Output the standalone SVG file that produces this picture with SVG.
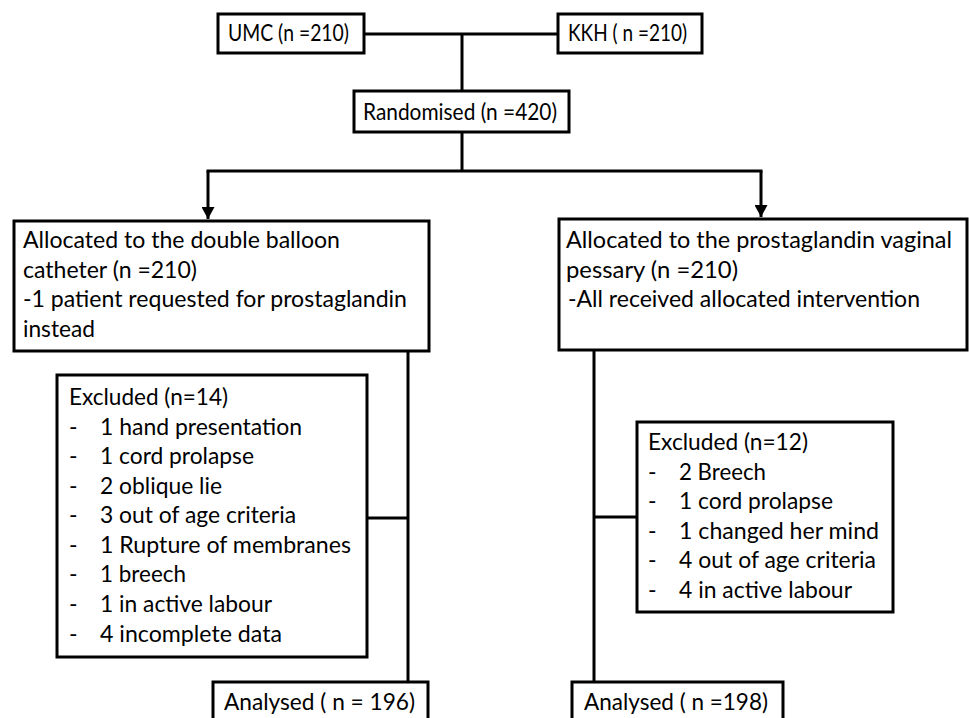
<svg xmlns="http://www.w3.org/2000/svg" width="969" height="718" viewBox="0 0 969 718">
<defs>
<style>
.box{fill:#fff;stroke:#000;stroke-width:3}
.ln{fill:none;stroke:#000;stroke-width:3}
text{font-family:Lato,"Open Sans","Liberation Sans",sans-serif;font-size:23px;fill:#000}
</style>
<marker id="arr" markerUnits="userSpaceOnUse" markerWidth="13" markerHeight="13" refX="12" refY="6.5" orient="auto">
<path d="M0,0 L12,6.5 L0,13 z" fill="#000"/>
</marker>
</defs>
<rect width="969" height="718" fill="#fff"/>
<g id="connectors">
<line class="ln" x1="364" y1="34" x2="558" y2="34"/>
<line class="ln" x1="462" y1="34" x2="462" y2="91"/>
<line class="ln" x1="462" y1="132" x2="462" y2="171"/>
<line class="ln" x1="206.5" y1="171" x2="762.5" y2="171"/>
<line class="ln" x1="208" y1="171" x2="208" y2="219" marker-end="url(#arr)"/>
<line class="ln" x1="761" y1="171" x2="761" y2="217" marker-end="url(#arr)"/>
<line class="ln" x1="408" y1="351" x2="408" y2="682"/>
<line class="ln" x1="367" y1="518" x2="408" y2="518"/>
<line class="ln" x1="594" y1="350" x2="594" y2="682"/>
<line class="ln" x1="594" y1="517" x2="637" y2="517"/>
</g>
<g id="umc"><rect class="box" x="218" y="14" width="146" height="39"/><text x="228" y="41" textLength="121" lengthAdjust="spacingAndGlyphs">UMC (n =210)</text></g>
<g id="kkh"><rect class="box" x="558" y="14" width="144" height="39"/><text x="568" y="41" textLength="119" lengthAdjust="spacingAndGlyphs">KKH ( n =210)</text></g>
<g id="randomised"><rect class="box" x="354" y="91" width="215" height="41"/><text x="363" y="120" textLength="194" lengthAdjust="spacingAndGlyphs">Randomised (n =420)</text></g>
<g id="alloc-left"><rect class="box" x="14" y="221" width="415" height="130"/>
<text x="23" y="248" textLength="317" lengthAdjust="spacingAndGlyphs">Allocated to the double balloon</text>
<text x="23" y="278" textLength="174" lengthAdjust="spacingAndGlyphs">catheter (n =210)</text>
<text x="23" y="307" textLength="384" lengthAdjust="spacingAndGlyphs">-1 patient requested for prostaglandin</text>
<text x="23" y="337" textLength="72" lengthAdjust="spacingAndGlyphs">instead</text></g>
<g id="alloc-right"><rect class="box" x="559" y="219" width="408" height="131"/>
<text x="566" y="248" textLength="386" lengthAdjust="spacingAndGlyphs">Allocated to the prostaglandin vaginal</text>
<text x="566" y="278" textLength="172" lengthAdjust="spacingAndGlyphs">pessary (n =210)</text>
<text x="568" y="307" textLength="352" lengthAdjust="spacingAndGlyphs">-All received allocated intervention</text></g>
<g id="excl-left"><rect class="box" x="57" y="375" width="310" height="282"/>
<text x="69" y="405" textLength="159" lengthAdjust="spacingAndGlyphs">Excluded (n=14)</text>
<text x="69" y="435">-</text><text x="100" y="435" textLength="202" lengthAdjust="spacingAndGlyphs">1 hand presentation</text>
<text x="69" y="464">-</text><text x="100" y="464" textLength="154" lengthAdjust="spacingAndGlyphs">1 cord prolapse</text>
<text x="69" y="494">-</text><text x="100" y="494" textLength="122" lengthAdjust="spacingAndGlyphs">2 oblique lie</text>
<text x="69" y="523">-</text><text x="100" y="523" textLength="196" lengthAdjust="spacingAndGlyphs">3 out of age criteria</text>
<text x="69" y="553">-</text><text x="100" y="553" textLength="251" lengthAdjust="spacingAndGlyphs">1 Rupture of membranes</text>
<text x="69" y="582">-</text><text x="100" y="582" textLength="86" lengthAdjust="spacingAndGlyphs">1 breech</text>
<text x="69" y="612">-</text><text x="100" y="612" textLength="172" lengthAdjust="spacingAndGlyphs">1 in active labour</text>
<text x="69" y="642">-</text><text x="100" y="642" textLength="182" lengthAdjust="spacingAndGlyphs">4 incomplete data</text></g>
<g id="excl-right"><rect class="box" x="637" y="422" width="256" height="190"/>
<text x="648" y="450" textLength="160" lengthAdjust="spacingAndGlyphs">Excluded (n=12)</text>
<text x="648" y="480">-</text><text x="679" y="480" textLength="87" lengthAdjust="spacingAndGlyphs">2 Breech</text>
<text x="648" y="509">-</text><text x="679" y="509" textLength="154" lengthAdjust="spacingAndGlyphs">1 cord prolapse</text>
<text x="648" y="539">-</text><text x="679" y="539" textLength="200" lengthAdjust="spacingAndGlyphs">1 changed her mind</text>
<text x="648" y="568">-</text><text x="679" y="568" textLength="197" lengthAdjust="spacingAndGlyphs">4 out of age criteria</text>
<text x="648" y="598">-</text><text x="679" y="598" textLength="173" lengthAdjust="spacingAndGlyphs">4 in active labour</text></g>
<g id="analysed-left"><rect class="box" x="213" y="682" width="215" height="50"/><text x="224" y="710" textLength="191" lengthAdjust="spacingAndGlyphs">Analysed ( n = 196)</text></g>
<g id="analysed-right"><rect class="box" x="572" y="682" width="211" height="50"/><text x="584" y="710" textLength="184" lengthAdjust="spacingAndGlyphs">Analysed ( n =198)</text></g>
</svg>
